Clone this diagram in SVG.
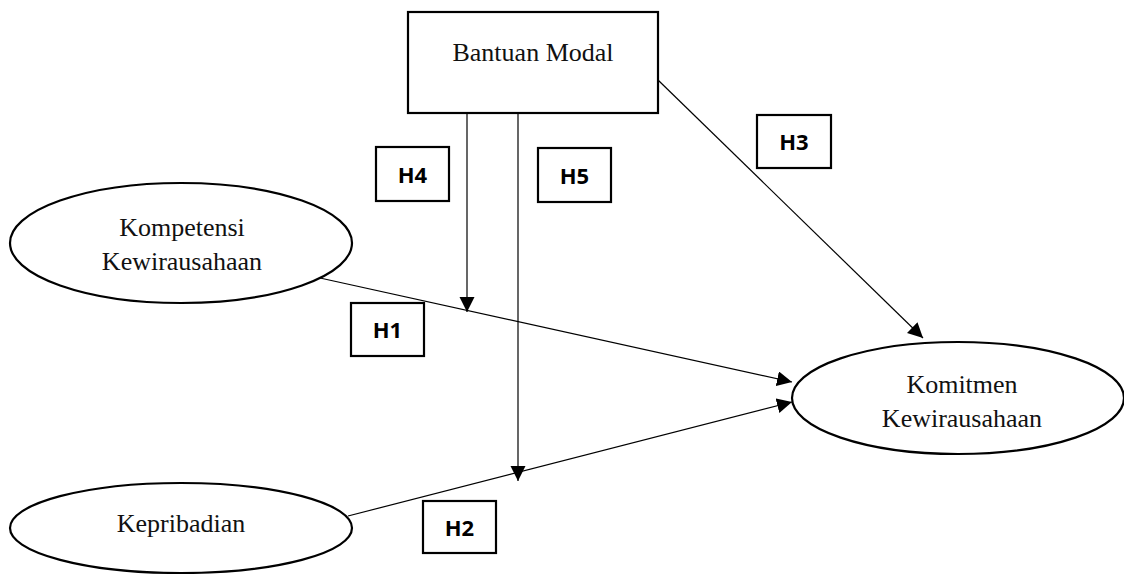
<svg xmlns="http://www.w3.org/2000/svg" width="1124" height="574" viewBox="0 0 1124 574">
<style>
.node{fill:#fff;stroke:#000;stroke-width:2.2}
.lbl{fill:#fff;stroke:#000;stroke-width:2.2}
.t{font-family:"Liberation Serif","Times New Roman",serif;font-size:26px;fill:#111;text-anchor:middle}
.h{font-family:"Open Sans","Liberation Sans",sans-serif;font-size:22px;font-weight:bold;fill:#000;text-anchor:middle}
.c{fill:none;stroke:#000;stroke-width:1.2}
</style>
<defs>
<marker id="arr" markerUnits="userSpaceOnUse" markerWidth="16" markerHeight="16" refX="15" refY="7.5" orient="auto">
<path d="M0,0 L15,7.5 L0,15 Z" fill="#000"/>
</marker>
</defs>
<rect width="1124" height="574" fill="#fff"/>
<g id="connectors">
<line class="c" x1="320" y1="278" x2="792" y2="382" marker-end="url(#arr)"/>
<line class="c" x1="348" y1="516" x2="792" y2="402" marker-end="url(#arr)"/>
<line class="c" x1="658" y1="80" x2="923" y2="338" marker-end="url(#arr)"/>
<line class="c" x1="467" y1="113" x2="467" y2="312" marker-end="url(#arr)"/>
<line class="c" x1="518" y1="113" x2="518" y2="481" marker-end="url(#arr)"/>
</g>
<g id="bantuan-modal">
<rect class="node" x="408" y="12" width="250" height="101"/>
<text class="t" x="533" y="61">Bantuan Modal</text>
</g>
<g id="kompetensi">
<ellipse class="node" cx="181" cy="243" rx="171" ry="60"/>
<text class="t" x="182" y="236">Kompetensi</text>
<text class="t" x="182" y="270">Kewirausahaan</text>
</g>
<g id="kepribadian">
<ellipse class="node" cx="181" cy="528" rx="171" ry="45"/>
<text class="t" x="181" y="532">Kepribadian</text>
</g>
<g id="komitmen">
<ellipse class="node" cx="958" cy="398" rx="166" ry="56"/>
<text class="t" x="962" y="393">Komitmen</text>
<text class="t" x="962" y="427">Kewirausahaan</text>
</g>
<g id="h1">
<rect class="lbl" x="351" y="303" width="73" height="53"/>
<text class="h" x="387.5" y="338">H1</text>
</g>
<g id="h2">
<rect class="lbl" x="423" y="501" width="73" height="52"/>
<text class="h" x="459.5" y="536">H2</text>
</g>
<g id="h3">
<rect class="lbl" x="757" y="115" width="74" height="53"/>
<text class="h" x="794" y="150">H3</text>
</g>
<g id="h4">
<rect class="lbl" x="376" y="147" width="73" height="54"/>
<text class="h" x="412.5" y="183">H4</text>
</g>
<g id="h5">
<rect class="lbl" x="538" y="148" width="73" height="54"/>
<text class="h" x="574.5" y="184">H5</text>
</g>
</svg>
